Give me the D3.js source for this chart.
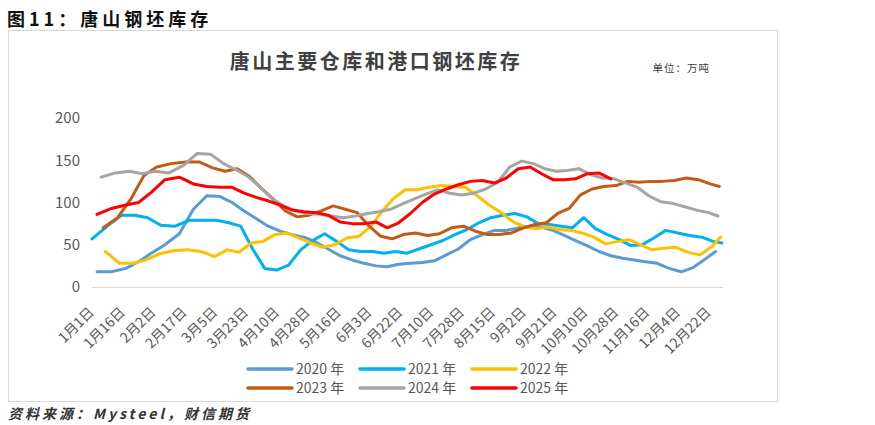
<!DOCTYPE html>
<html>
<head>
<meta charset="utf-8">
<script src="https://cdn.jsdelivr.net/npm/d3@7"></script>
<style>
  body { margin: 0; background: #fff; }
  svg { display: block; }
  text { font-family: "Noto Sans CJK SC", "Noto Sans", sans-serif; }
</style>
</head>
<body>
<svg id="chart" width="875" height="425"></svg>
<script>
// x axis tick labels and the day of year each one stands for
var tickLabels = ["1月1日","1月16日","2月2日","2月17日","3月5日","3月23日","4月10日","4月28日",
  "5月16日","6月3日","6月22日","7月10日","7月28日","8月15日","9月2日","9月21日","10月10日",
  "10月28日","11月16日","12月4日","12月22日"];
var tickDays = [1,16,33,48,64,82,100,118,136,154,173,191,209,227,245,264,283,301,320,338,356];
var yTicks = [0, 50, 100, 150, 200];

var seriesNames = ["2020 年","2021 年","2022 年","2023 年","2024 年","2025 年"];
var seriesColors = ["#5B9BD5","#00B0F0","#FFC000","#C55A11","#A5A5A5","#FF0000"];
// first weekly reading (day of year), then one value a week, 万吨
var seriesStart = [2, 0, 6, 5, 4, 2];
var v2020 = [18,18,22,30,40,50,63,92,108,107,100,90,81,72,66,62,59,53,45,37,32,28,25,24,27,28,
  29,31,38,45,56,62,67,67,70,72,71,67,61,55,49,42,37,34,32,30,28,22,18,23,33,42];
var v2021 = [57,72,85,85,82,73,72,79,79,79,76,72,45,22,20,26,44,55,63,54,44,42,42,40,42,40,
  45,50,55,62,68,76,82,85,87,83,75,74,72,70,82,69,62,56,49,50,58,67,64,61,59,54,52];
var v2022 = [42,28,28,32,39,43,44,42,36,44,41,52,54,62,64,58,52,47,50,58,60,72,90,105,115,115,
  118,120,119,118,108,97,88,77,71,69,71,68,67,64,59,51,54,56,50,44,46,47,41,38,48,59];
var v2023 = [70,82,105,132,142,146,148,148,141,137,140,131,117,104,90,83,85,90,96,92,88,72,60,57,
  62,64,61,63,70,72,66,62,62,64,70,74,76,87,93,109,116,119,120,125,124,125,125,126,129,127,122,119];
var v2024 = [130,135,137,134,137,135,144,158,157,146,139,131,119,105,96,90,87,86,84,82,84,87,89,92,
  98,104,110,115,111,109,111,116,124,142,149,146,140,137,138,140,133,129,128,123,118,108,101,99,95,91,88,84];
var v2025 = [86,93,97,100,112,127,130,122,119,118,118,111,106,102,97,91,89,88,85,77,75,75,77,70,
  76,87,100,110,116,121,125,126,123,129,140,142,134,127,127,128,134,135,128];
var seriesValues = [v2020, v2021, v2022, v2023, v2024, v2025];

var svg = d3.select("#chart");
var plotLeft = 92, plotRight = 723, plotTop = 118, plotBottom = 287;

// FRAME
svg.append("rect").attr("x", 8.5).attr("y", 30.5).attr("width", 769).attr("height", 371)
  .attr("fill", "#fff").attr("stroke", "#D9D9D9").attr("stroke-width", 1);

// SCALES
var labelScale = d3.scaleLinear().domain([0, tickLabels.length - 1]).range([95, 712]);
var xScale = d3.scaleLinear()
  .domain([0].concat(tickDays, [365]))
  .range([plotLeft].concat(tickDays.map(function(d, i){ return labelScale(i); }), [plotRight]));
var yScale = d3.scaleLinear().domain([0, 200]).range([plotBottom, plotTop]);

// TITLES
svg.append("text").attr("x", 7).attr("y", 26).text("图11：唐山钢坯库存")
  .attr("font-size", 18).attr("font-weight", "bold").attr("letter-spacing", 4).attr("fill", "#111");
svg.append("text").attr("x", 376).attr("y", 69).attr("text-anchor", "middle").text("唐山主要仓库和港口钢坯库存")
  .attr("font-size", 20).attr("font-weight", "bold").attr("letter-spacing", 2.5).attr("fill", "#404040");
svg.append("text").attr("x", 710).attr("y", 72).attr("text-anchor", "end").text("单位：万吨")
  .attr("font-size", 10.5).attr("letter-spacing", 1).attr("fill", "#404040");

// Y AXIS LABELS
svg.append("g").selectAll("text").data(yTicks).enter().append("text")
  .attr("x", 80).attr("y", function(d){ return yScale(d); }).attr("dy", "0.35em")
  .attr("text-anchor", "end").attr("font-size", 15).attr("fill", "#595959")
  .attr("font-family", "'Liberation Sans', sans-serif")
  .text(function(d){ return d; });

// X AXIS LINE
svg.append("line").attr("x1", plotLeft).attr("x2", plotRight)
  .attr("y1", yScale(0) + 0.5).attr("y2", yScale(0) + 0.5)
  .attr("stroke", "#D9D9D9").attr("stroke-width", 1);

// X AXIS LABELS
svg.append("g").selectAll("text").data(tickLabels).enter().append("text")
  .attr("transform", function(d, i){ return "translate(" + labelScale(i) + "," + 313 + ") rotate(-45)"; })
  .attr("text-anchor", "end").attr("font-size", 14).attr("fill", "#595959")
  .text(function(d){ return d; });

// LINES
var line = d3.line()
  .defined(function(d){ return d.v != null; })
  .x(function(d){ return xScale(d.day); })
  .y(function(d){ return yScale(d.v); });

seriesValues.forEach(function(vals, s){
  var pts = vals.map(function(v, i){ return { day: seriesStart[s] + 7 * i, v: v }; });
  svg.append("path").datum(pts)
    .attr("d", line)
    .attr("fill", "none")
    .attr("stroke", seriesColors[s])
    .attr("stroke-width", 3)
    .attr("stroke-linejoin", "round")
    .attr("stroke-linecap", "round");
});

// LEGEND
var legend = svg.append("g").selectAll("g").data(seriesNames).enter().append("g")
  .attr("transform", function(d, i){ return "translate(" + (248 + (i % 3) * 112) + "," + (369 + Math.floor(i / 3) * 19) + ")"; });
legend.append("line").attr("x1", 0).attr("x2", 44).attr("y1", 0).attr("y2", 0)
  .attr("stroke", function(d, i){ return seriesColors[i]; }).attr("stroke-width", 3.5)
  .attr("stroke-linecap", "round");
legend.append("text").attr("x", 48).attr("y", 0).attr("dy", "0.35em")
  .attr("font-size", 14).attr("fill", "#595959")
  .text(function(d){ return d; });

// SOURCE
svg.append("text").attr("x", 8).attr("y", 419).text("资料来源：Mysteel，财信期货")
  .attr("font-size", 14).attr("font-weight", "bold").attr("font-style", "italic")
  .attr("letter-spacing", 3).attr("fill", "#333");
</script>
</body>
</html>
